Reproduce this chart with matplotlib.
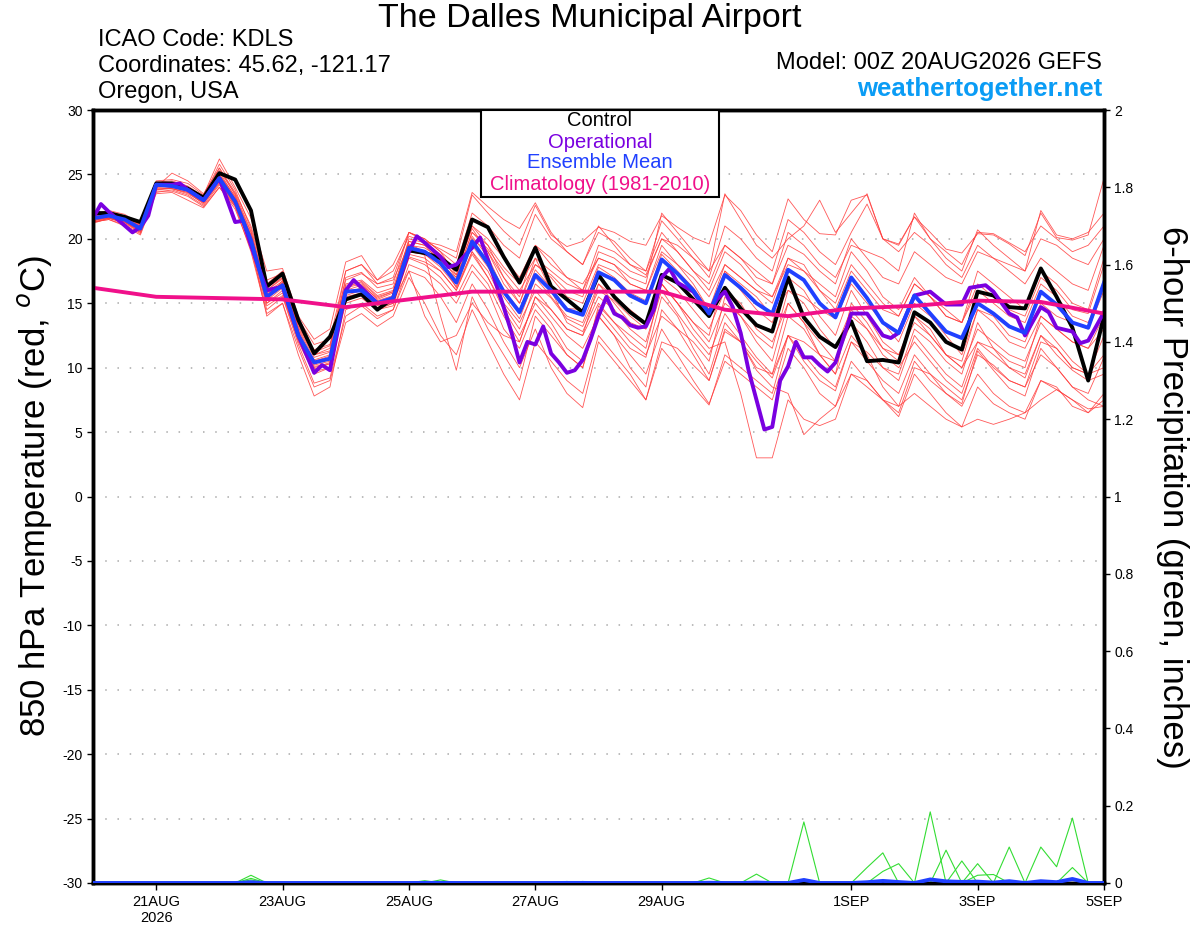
import numpy as np
import matplotlib
matplotlib.use("Agg")
import matplotlib.pyplot as plt
from matplotlib.patches import Rectangle

plt.rcParams['font.family'] = ['Liberation Sans', 'DejaVu Sans']
plt.rcParams['axes.unicode_minus'] = False

# forecast steps, 6-hourly from 00Z 20AUG2026
hours = np.arange(65) * 6

control = [22.0, 22.0, 21.7, 21.3, 24.3, 24.3, 23.9, 23.2, 25.1, 24.6, 22.2, 16.3,
           17.3, 13.7, 11.1, 12.4, 15.3, 15.7, 14.5, 15.4, 19.1, 18.9, 18.5, 17.6,
           21.5, 20.9, 18.6, 16.6, 19.3, 16.3, 15.3, 14.3, 17.2, 15.5, 14.3, 13.4,
           17.2, 16.6, 15.3, 14.0, 16.2, 14.6, 13.3, 12.8, 17.0, 13.9, 12.4, 11.6,
           13.6, 10.5, 10.6, 10.4, 14.3, 13.5, 12.0, 11.4, 15.9, 15.6, 14.7, 14.6,
           17.7, 15.5, 13.1, 9.0, 14.0]

ens_mean = [21.6, 21.8, 21.5, 20.8, 24.2, 24.1, 23.8, 23.0, 24.7, 22.9, 19.9, 15.5,
            16.4, 12.5, 10.4, 10.7, 15.9, 16.0, 15.0, 15.4, 19.3, 19.0, 18.1, 16.6,
            19.8, 18.1, 15.9, 14.3, 17.2, 16.0, 14.5, 14.1, 17.4, 16.8, 15.6, 15.0,
            18.4, 17.3, 16.0, 14.2, 17.2, 16.2, 15.0, 14.2, 17.6, 16.8, 15.0, 13.9,
            17.0, 15.4, 13.5, 12.7, 15.6, 14.2, 12.8, 12.3, 15.0, 14.2, 13.2, 12.7,
            15.9, 14.9, 13.5, 13.1, 16.6]

# operational run (vertices read where visible)
op_hours = [0, 3, 6, 15, 18, 21, 24, 30, 33, 36, 42, 48, 54, 57, 60, 66, 72, 78, 84,
            87, 90, 96, 99, 102, 108, 114, 120, 123, 126, 132, 135, 138, 144, 147,
            150, 156, 159, 162, 165, 168, 171, 174, 177, 180, 183, 186, 189, 192,
            195, 198, 201, 204, 207, 210, 213, 216, 219, 222, 228, 231, 234, 237,
            240, 243, 246, 249, 252, 255, 258, 261, 264, 267, 270, 273, 276, 279,
            282, 288, 294, 300, 303, 306, 312, 318, 321, 324, 330, 333, 339, 342,
            348, 351, 354, 360, 363, 366, 372, 375, 378, 384]
operational = [21.6, 22.7, 22.1, 20.5, 20.9, 21.8, 24.2, 24.2, 24.3, 23.8, 23.0, 24.7,
               21.3, 21.4, 19.5, 16.0, 16.3, 12.5, 9.6, 10.2, 9.8, 16.0, 16.8, 16.2,
               15.0, 15.4, 19.0, 20.2, 19.7, 18.6, 17.8, 18.0, 19.3, 20.1, 18.4, 14.7,
               12.7, 10.4, 12.0, 11.8, 13.2, 11.1, 10.4, 9.6, 9.8, 10.6, 12.2, 14.0,
               15.5, 14.2, 13.9, 13.3, 13.1, 13.2, 14.5, 17.0, 17.7, 16.6, 15.9, 15.0,
               14.3, 15.3, 15.9, 14.7, 12.7, 9.8, 7.5, 5.2, 5.4, 9.0, 10.1, 12.0,
               10.8, 10.8, 10.2, 9.7, 10.4, 14.2, 14.2, 12.5, 12.3, 12.7, 15.6, 15.9,
               15.4, 14.9, 14.9, 16.2, 16.4, 15.9, 14.2, 13.9, 12.5, 14.7, 14.3, 13.1,
               12.8, 11.9, 12.1, 14.3]

clim_hours = np.arange(17) * 24
climatology = [16.2, 15.5, 15.4, 15.3, 14.7, 15.3, 15.9, 15.9, 15.9, 15.9, 14.5, 14.0,
               14.6, 14.8, 15.2, 15.1, 14.2]

members = [
    [21.9, 22.2, 21.9, 21.2, 24.5, 24.6, 24.3, 23.4, 26.2, 24.0, 21.6, 17.5, 17.7, 14.0, 12.2, 13.0,
     18.2, 18.7, 16.8, 18.0, 20.5, 19.8, 19.2, 18.5, 23.4, 22.0, 20.6, 19.5, 22.6, 20.3, 19.4, 19.8,
     20.9, 20.5, 19.8, 19.5, 21.8, 20.9, 20.1, 19.6, 23.4, 22.2, 20.3, 19.0, 23.1, 21.5, 20.4, 20.3,
     23.0, 23.4, 20.0, 19.6, 21.7, 20.5, 19.2, 18.9, 20.4, 20.3, 19.6, 18.7, 22.0, 20.1, 19.9, 20.3, 24.7],
    [21.4, 21.7, 21.6, 21.0, 24.0, 25.1, 24.5, 23.5, 25.5, 23.6, 21.0, 16.8, 17.3, 13.4, 11.0, 11.3,
     17.0, 17.4, 16.2, 16.5, 20.5, 20.0, 19.0, 17.2, 21.0, 19.5, 17.0, 15.0, 18.5, 16.0, 13.5, 12.8,
     15.5, 14.5, 13.0, 12.0, 16.0, 14.2, 12.5, 11.0, 14.2, 12.5, 10.8, 9.5, 12.5, 10.5, 9.0, 8.2,
     12.0, 10.5, 9.0, 8.0, 11.0, 9.5, 8.0, 7.2, 11.3, 9.8, 8.4, 7.8, 11.5, 10.0, 8.5, 8.0, 10.8],
    [21.5, 21.9, 21.3, 20.6, 23.8, 23.9, 23.6, 22.8, 24.9, 23.0, 19.5, 15.0, 15.8, 12.0, 9.5, 10.0,
     15.2, 15.6, 14.5, 14.8, 18.6, 18.2, 17.5, 16.0, 18.8, 17.0, 14.8, 13.0, 16.5, 15.4, 13.8, 13.2,
     16.0, 15.2, 14.0, 13.0, 16.5, 15.0, 13.0, 11.5, 12.0, 8.0, 3.0, 3.0, 7.5, 6.0, 5.5, 6.0,
     9.5, 9.0, 7.5, 6.5, 10.0, 9.5, 8.5, 7.5, 11.0, 10.2, 9.0, 8.5, 12.0, 11.5, 10.0, 9.5, 12.5],
    [21.7, 22.0, 21.6, 20.9, 24.3, 24.2, 23.9, 23.2, 24.5, 22.6, 19.7, 15.2, 16.8, 12.8, 10.6, 11.0,
     16.2, 16.5, 15.3, 15.8, 19.8, 19.5, 18.2, 16.2, 19.0, 17.0, 14.5, 12.5, 15.0, 13.5, 11.5, 10.5,
     14.5, 13.0, 11.5, 10.8, 15.5, 14.0, 11.5, 9.5, 13.5, 12.0, 9.8, 8.5, 8.0, 4.8, 6.0, 7.0,
     10.5, 9.0, 7.5, 6.2, 9.5, 8.0, 6.5, 5.4, 8.5, 7.2, 6.5, 6.0, 9.0, 8.3, 7.5, 6.8, 7.0],
    [21.3, 21.5, 21.1, 20.4, 23.6, 23.8, 23.4, 22.6, 24.2, 22.5, 19.0, 14.2, 15.0, 11.5, 8.5, 9.0,
     13.5, 14.2, 13.2, 14.0, 17.0, 15.0, 12.5, 11.0, 14.5, 12.0, 9.5, 7.5, 12.0, 10.5, 9.0, 8.0,
     12.5, 11.0, 9.5, 7.5, 12.0, 11.5, 10.2, 9.0, 12.8, 12.0, 10.5, 9.2, 12.5, 11.0, 9.5, 8.5,
     12.0, 11.2, 10.0, 9.5, 13.0, 12.0, 10.5, 9.5, 13.5, 11.5, 10.0, 9.2, 12.5, 11.0, 9.8, 9.0, 9.5],
    [21.6, 21.6, 21.3, 20.7, 24.1, 24.0, 23.7, 22.9, 25.0, 23.3, 20.5, 16.2, 17.0, 13.1, 11.2, 11.7,
     16.8, 17.3, 16.5, 16.8, 19.5, 18.7, 14.0, 9.8, 15.5, 13.0, 11.0, 9.0, 14.0, 12.5, 11.0, 10.0,
     14.8, 13.5, 12.5, 11.5, 16.5, 15.0, 13.5, 12.5, 17.5, 16.5, 15.5, 14.0, 16.0, 15.5, 14.5, 13.8,
     16.5, 15.0, 13.5, 12.0, 15.0, 14.0, 12.5, 11.0, 14.5, 13.5, 12.0, 11.5, 14.0, 13.0, 12.0, 11.5, 13.0],
    [21.8, 21.9, 21.7, 21.1, 24.4, 24.5, 24.1, 23.3, 25.8, 23.8, 20.8, 16.5, 17.5, 13.8, 11.8, 12.2,
     17.5, 18.0, 16.8, 17.5, 20.2, 19.8, 19.5, 19.0, 23.6, 22.5, 21.5, 20.8, 22.8, 20.5, 19.0, 18.0,
     20.5, 19.8, 18.5, 17.5, 20.5, 19.0, 17.5, 16.0, 19.0, 18.0, 16.5, 15.5, 18.5, 17.5, 16.0, 15.0,
     18.0, 16.5, 15.0, 14.0, 16.5, 15.5, 14.5, 13.5, 16.5, 15.5, 14.5, 14.0, 17.0, 16.0, 14.5, 14.2, 18.0],
    [21.5, 21.8, 21.4, 20.8, 24.2, 24.0, 23.8, 23.1, 24.8, 23.1, 20.2, 15.8, 16.5, 12.6, 10.2, 10.5,
     15.8, 16.2, 15.2, 15.6, 19.6, 19.0, 18.0, 17.0, 20.5, 19.2, 17.5, 16.0, 18.0, 17.2, 16.0, 15.5,
     19.0, 18.5, 17.5, 17.0, 20.0, 19.5, 18.5, 17.5, 23.5, 21.5, 19.5, 18.5, 20.0, 21.0, 23.0, 20.5,
     22.0, 23.5, 20.0, 19.0, 20.5, 19.5, 18.0, 17.0, 19.5, 18.5, 17.5, 16.5, 18.5, 17.5, 16.5, 16.0, 19.5],
    [21.2, 21.6, 21.2, 20.5, 23.7, 23.7, 23.3, 22.5, 24.0, 22.3, 19.2, 14.5, 15.5, 11.8, 8.8, 9.2,
     14.0, 14.8, 13.8, 14.5, 17.5, 17.0, 15.5, 13.5, 16.5, 14.5, 12.0, 10.0, 13.0, 10.0, 8.0, 6.9,
     12.0, 10.5, 9.0, 7.5, 11.5, 10.0, 8.5, 7.1, 11.0, 10.0, 9.0, 8.0, 12.5, 12.0, 11.0, 10.5,
     14.0, 13.0, 11.5, 11.0, 13.5, 12.5, 11.0, 10.0, 12.0, 11.0, 10.0, 9.5, 12.5, 11.5, 10.0, 9.5, 11.0],
    [21.6, 21.9, 21.5, 20.9, 24.2, 24.3, 23.9, 23.1, 24.6, 22.8, 19.8, 15.4, 16.3, 12.4, 10.1, 10.3,
     15.5, 15.8, 14.8, 15.2, 19.0, 18.8, 18.0, 16.8, 20.2, 18.6, 16.0, 14.5, 17.6, 16.2, 14.6, 14.5,
     17.8, 17.0, 15.8, 15.2, 18.8, 17.5, 16.2, 14.5, 17.5, 16.0, 14.5, 13.5, 17.0, 16.0, 14.0, 12.5,
     16.0, 14.0, 12.0, 11.0, 14.0, 12.5, 11.0, 10.0, 13.0, 12.0, 11.0, 10.5, 13.5, 12.0, 10.5, 9.5, 10.0],
    [21.7, 22.1, 21.8, 21.1, 24.3, 24.4, 24.0, 23.2, 25.3, 23.5, 20.6, 16.0, 16.9, 13.2, 11.4, 11.8,
     16.5, 16.8, 15.8, 16.2, 19.8, 19.5, 18.6, 17.5, 21.0, 20.0, 18.5, 17.0, 19.5, 18.0, 17.0, 16.0,
     19.5, 19.0, 18.0, 17.2, 20.0, 19.0, 17.5, 16.5, 19.5, 18.5, 17.0, 16.5, 19.5, 18.8, 17.5, 16.5,
     20.0, 18.5, 17.0, 16.5, 19.0, 18.0, 17.0, 16.5, 19.0, 18.5, 18.0, 17.5, 22.2, 20.3, 20.0, 20.5, 22.0],
    [21.4, 21.7, 21.3, 20.6, 23.9, 23.9, 23.6, 22.7, 24.4, 22.7, 19.4, 14.8, 15.6, 12.1, 9.7, 10.0,
     15.0, 15.4, 14.5, 15.0, 18.5, 18.0, 17.0, 15.5, 18.0, 16.5, 14.0, 12.0, 15.5, 14.0, 12.5, 11.5,
     14.0, 12.5, 11.0, 9.5, 13.0, 11.0, 9.0, 7.2, 10.5, 9.5, 8.5, 7.5, 11.5, 10.0, 8.0, 7.0,
     9.5, 8.5, 7.5, 7.0, 10.5, 9.0, 8.0, 7.0, 9.5, 8.0, 7.0, 6.5, 9.0, 8.5, 7.0, 6.5, 8.0],
    [21.5, 21.8, 21.5, 20.9, 24.1, 24.2, 23.9, 23.0, 25.2, 23.2, 20.3, 15.9, 16.7, 12.9, 10.8, 11.2,
     16.2, 16.7, 15.6, 16.0, 19.5, 19.3, 18.5, 17.0, 20.0, 19.0, 17.0, 15.5, 19.5, 18.5, 17.0, 16.5,
     18.5, 18.0, 16.5, 16.0, 19.0, 18.0, 17.0, 15.5, 18.0, 17.0, 16.0, 15.5, 18.0, 17.5, 16.5, 15.5,
     19.0, 17.5, 15.5, 14.5, 17.0, 15.5, 14.0, 13.5, 17.5, 16.5, 15.5, 14.5, 17.5, 16.5, 15.0, 14.5, 18.5],
    [21.3, 21.6, 21.4, 20.7, 24.0, 23.9, 23.5, 22.8, 24.3, 22.6, 19.6, 15.0, 16.0, 12.2, 9.9, 10.3,
     15.3, 15.6, 14.6, 15.0, 18.8, 18.5, 17.5, 16.0, 19.0, 17.5, 15.0, 13.5, 16.0, 14.5, 13.0, 12.5,
     16.5, 15.0, 13.5, 13.0, 16.5, 15.0, 13.5, 12.0, 15.0, 14.0, 12.5, 11.5, 16.0, 15.0, 13.0, 11.5,
     14.5, 13.0, 11.0, 10.0, 12.0, 10.5, 9.0, 8.0, 11.5, 10.0, 9.0, 8.5, 11.0, 10.0, 8.5, 7.5, 7.0],
    [21.8, 22.0, 21.7, 21.0, 24.4, 24.3, 24.0, 23.2, 25.5, 23.4, 20.0, 15.6, 16.6, 12.7, 10.3, 10.8,
     16.0, 16.4, 15.4, 15.9, 19.2, 19.0, 18.3, 17.2, 20.5, 19.5, 17.8, 16.5, 18.5, 17.5, 16.5, 16.0,
     18.5, 18.0, 17.0, 16.5, 22.0, 20.5, 19.0, 17.5, 19.5, 18.5, 17.5, 16.5, 20.5, 19.5, 18.0, 17.0,
     19.5, 19.0, 18.5, 17.5, 22.0, 20.0, 19.0, 18.0, 20.5, 20.4, 19.7, 19.0, 21.0, 20.0, 19.0, 19.5, 21.0],
    [21.5, 21.7, 21.4, 20.8, 24.2, 24.1, 23.8, 23.0, 24.6, 22.7, 19.6, 15.2, 16.2, 12.3, 10.0, 10.4,
     15.6, 16.0, 15.0, 15.3, 17.5, 14.0, 12.0, 12.5, 15.0, 13.5, 12.5, 12.0, 15.5, 14.5, 13.0, 12.5,
     15.0, 13.5, 12.0, 11.0, 14.0, 13.0, 12.0, 10.5, 15.5, 14.0, 12.0, 10.5, 15.0, 13.5, 12.0, 10.5,
     13.5, 12.0, 10.0, 9.0, 12.5, 11.0, 9.5, 8.5, 12.0, 11.5, 10.5, 10.0, 14.0, 13.0, 12.0, 11.5, 14.0],
    [21.7, 21.9, 21.6, 21.0, 24.3, 24.1, 23.8, 23.1, 24.9, 23.0, 20.0, 15.7, 16.6, 12.6, 10.5, 10.9,
     16.4, 16.6, 15.5, 15.9, 20.0, 19.7, 18.8, 17.5, 20.8, 19.0, 16.5, 15.0, 18.0, 17.0, 15.5, 15.0,
     18.0, 17.5, 16.5, 16.0, 19.5, 18.0, 16.5, 14.5, 18.0, 17.0, 16.0, 15.0, 18.5, 18.0, 16.0, 14.5,
     17.5, 16.0, 14.5, 14.0, 16.5, 15.5, 14.0, 13.5, 16.0, 15.0, 14.0, 13.5, 16.5, 15.5, 14.0, 13.5, 16.5],
    [21.4, 21.6, 21.3, 20.5, 23.8, 24.0, 23.7, 22.9, 24.5, 22.8, 19.9, 15.4, 16.4, 12.5, 10.4, 10.6,
     15.8, 16.0, 15.0, 15.4, 19.0, 18.8, 17.8, 16.3, 19.5, 17.8, 15.5, 13.8, 17.0, 15.5, 14.0, 13.5,
     16.5, 15.5, 14.5, 13.5, 17.0, 16.0, 14.5, 13.0, 16.0, 15.0, 13.0, 12.0, 15.0, 13.5, 11.0, 9.5,
     12.5, 11.0, 8.5, 7.0, 8.0, 7.0, 6.0, 5.4, 6.0, 5.6, 6.0, 6.5, 7.5, 8.3, 7.5, 6.5, 7.5],
    [21.6, 21.8, 21.5, 20.9, 24.2, 24.2, 23.9, 23.0, 25.0, 23.1, 20.3, 16.0, 17.0, 13.0, 11.0, 11.5,
     17.5, 18.0, 16.5, 17.0, 20.5, 20.0, 19.0, 18.0, 22.0, 21.0, 19.5, 18.5, 21.9, 20.0, 19.0, 18.0,
     21.0, 19.5, 18.0, 17.5, 21.4, 20.0, 18.5, 17.0, 21.0, 20.0, 18.5, 17.5, 21.5, 20.5, 19.0, 18.0,
     20.5, 22.7, 20.0, 19.5, 21.7, 20.0, 18.5, 17.5, 20.7, 19.5, 18.5, 17.5, 20.0, 19.5, 18.5, 18.0, 20.0],
    [21.3, 21.5, 21.0, 20.3, 23.5, 23.6, 23.0, 22.4, 24.0, 22.5, 19.5, 14.0, 15.0, 11.0, 7.8, 8.5,
     14.5, 15.0, 14.0, 14.5, 18.0, 17.5, 16.5, 15.0, 17.5, 16.0, 13.0, 11.5, 14.5, 13.0, 11.0, 10.0,
     14.0, 12.5, 10.0, 8.5, 14.5, 13.0, 11.0, 9.0, 13.0, 12.0, 10.0, 9.5, 14.0, 13.0, 11.0, 9.5,
     15.0, 13.5, 11.5, 10.5, 14.0, 13.0, 11.0, 10.5, 14.5, 14.0, 12.5, 12.0, 15.0, 14.0, 13.5, 13.0, 16.0],
]

# 6-hour precipitation: nonzero member values (member, step, inches)
pcp_member = [0, 1, 2, 3, 4, 5, 6, 7, 7, 8, 9, 9, 10, 10, 11, 12, 13, 14, 18, 18,
              15, 16, 16, 16, 17]
pcp_step = [10, 10, 10, 21, 22, 31, 30, 39, 42, 45, 49, 50, 50, 51, 53, 54, 55, 56, 56, 57,
            58, 60, 61, 62, 62]
pcp_value = [0.020, 0.012, 0.008, 0.006, 0.008, 0.004, 0.004, 0.013, 0.023, 0.158, 0.040,
             0.078, 0.030, 0.050, 0.184, 0.085, 0.057, 0.050, 0.020, 0.022, 0.093, 0.093,
             0.042, 0.168, 0.040]

xtick_hours = [24, 72, 120, 168, 216, 288, 336, 384]
xtick_labels = ['21AUG\n2026', '23AUG', '25AUG', '27AUG', '29AUG', '1SEP', '3SEP', '5SEP']

pcp = np.zeros((len(members), len(hours)))
for m, s, v in zip(pcp_member, pcp_step, pcp_value):
    pcp[m, s] = v
pcp_mean = pcp.mean(axis=0)

fig = plt.figure(figsize=(12, 9.27), dpi=100)
ax = fig.add_axes([93 / 1200, 1 - 883 / 927, 1011 / 1200, 773 / 927])

for mem in members:
    ax.plot(hours, mem, color='#ff3a3a', lw=0.6, alpha=0.85, zorder=2)
ax.plot(hours, control, color='black', lw=2.8, zorder=4)
ax.plot(op_hours, operational, color='#7a00e0', lw=2.8, zorder=5)
ax.plot(hours, ens_mean, color='#2040ff', lw=2.8, zorder=6)
ax.plot(clim_hours, climatology, color='#f0108a', lw=2.8, zorder=7)

ax.set_xlim(0, 384)
ax.set_ylim(-30, 30)
ax.set_yticks(np.arange(-30, 31, 5))
ax.set_xticks(xtick_hours)
ax.set_xticklabels(xtick_labels, fontsize=10.5)
ax.tick_params(axis='y', labelsize=10, length=4, width=1)
ax.tick_params(axis='x', length=5, width=1)
for y in range(-25, 30, 5):
    ax.axhline(y, color='#aaaaaa', lw=1.1, ls=(0, (1, 7)), zorder=1)
for sp in ax.spines.values():
    sp.set_linewidth(2.5)

ax2 = ax.twinx()
for row in pcp:
    ax2.plot(hours, row, color='#33dd33', lw=0.8, zorder=2)
ax2.plot(hours, pcp_mean, color='#2040ff', lw=2.8, zorder=3)
ax2.set_ylim(0, 2)
ax2.set_yticks(np.arange(0, 2.01, 0.2))
ax2.set_yticklabels(['0', '0.2', '0.4', '0.6', '0.8', '1', '1.2', '1.4', '1.6', '1.8', '2'])
ax2.tick_params(axis='y', labelsize=10, length=4, width=1)
for sp in ax2.spines.values():
    sp.set_linewidth(2.5)

fig.text(35 / 1200, 1 - 496 / 927, '850 hPa Temperature (red, $^{o}$C)', rotation=90,
         ha='center', va='center', fontsize=25)
fig.text(1172 / 1200, 1 - 497 / 927, '6-hour Precipitation (green, inches)', rotation=270,
         ha='center', va='center', fontsize=25)

fig.text(590 / 1200, 1 - 18 / 927, 'The Dalles Municipal Airport', ha='center', va='center',
         fontsize=24.5)
fig.text(98 / 1200, 1 - 40 / 927, 'ICAO Code: KDLS', ha='left', va='center', fontsize=17)
fig.text(98 / 1200, 1 - 66 / 927, 'Coordinates: 45.62, -121.17', ha='left', va='center', fontsize=17)
fig.text(98 / 1200, 1 - 92 / 927, 'Oregon, USA', ha='left', va='center', fontsize=17)
fig.text(1102 / 1200, 1 - 63 / 927, 'Model: 00Z 20AUG2026 GEFS', ha='right', va='center',
         fontsize=17)
fig.text(1102 / 1200, 1 - 89 / 927, 'weathertogether.net', ha='right', va='center',
         fontsize=18.5, fontweight='bold', color='#0a9cf5')

fig.patches.append(Rectangle((481 / 1200, 1 - 197 / 927), 238 / 1200, 87 / 927,
                             transform=fig.transFigure, facecolor='white', edgecolor='black',
                             lw=1.5, zorder=10))
legend_rows = [('Control', 'black', 121), ('Operational', '#7a00e0', 142),
               ('Ensemble Mean', '#2040ff', 163), ('Climatology (1981-2010)', '#f0108a', 185)]
for txt, col, ypx in legend_rows:
    fig.text(600 / 1200, 1 - ypx / 927, txt, ha='center', va='center', fontsize=14.5,
             color=col, zorder=11)

fig.savefig('out.png', dpi=100)
